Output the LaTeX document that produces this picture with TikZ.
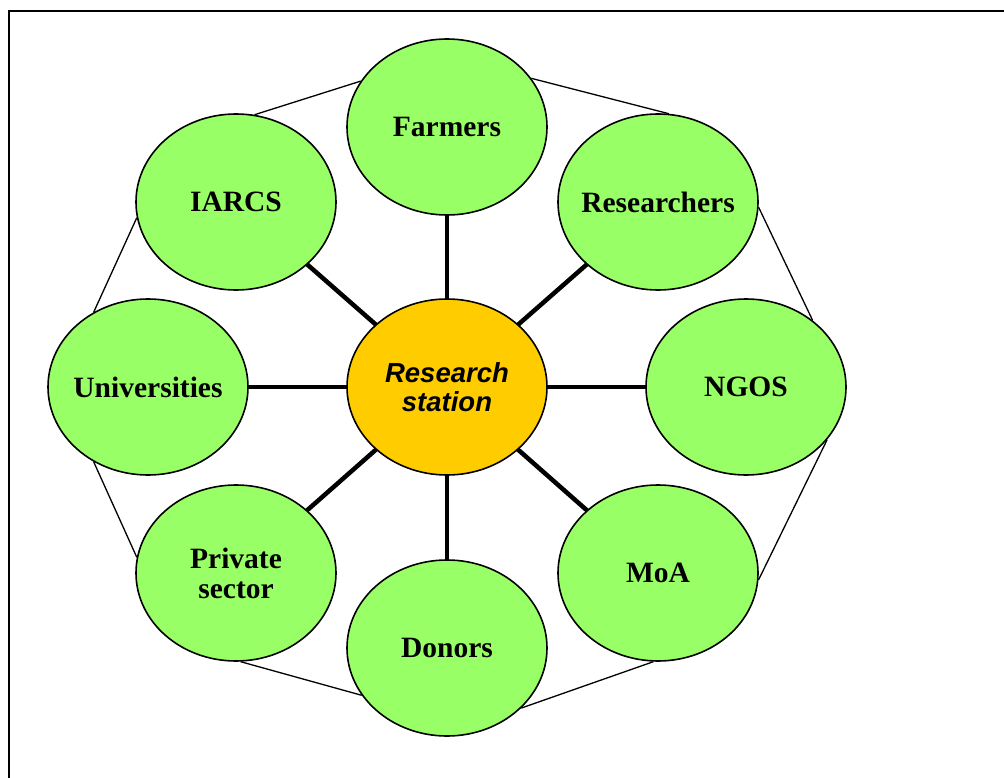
\documentclass[tikz,border=0pt]{standalone}
\usepackage{fontspec}
\usetikzlibrary{shapes.geometric}
\setmainfont{Liberation Serif}
\setsansfont{Liberation Sans}
\definecolor{leaf}{RGB}{153,255,102}
\definecolor{hub}{RGB}{255,204,0}
% a line of label text that does not widen its ellipse
\newcommand\zw[1]{\makebox[0pt][c]{#1}}
\begin{document}
\begin{tikzpicture}[x=1pt,y=1pt,
  partner/.style={ellipse, draw=black, line width=1.6pt, fill=leaf,
    minimum width=200pt, minimum height=176pt, inner sep=0pt,
    align=center, font=\fontsize{29.5}{30}\selectfont\bfseries},
  station/.style={ellipse, draw=black, line width=1.6pt, fill=hub,
    minimum width=200pt, minimum height=176pt, inner sep=0pt,
    align=center, font=\sffamily\fontsize{27.5}{29.5}\selectfont\bfseries\itshape},
  spoke/.style={line width=4.5pt},
  ring/.style={line width=1.3pt}]
\useasboundingbox (0,0) rectangle (1004,-778);
\clip (0,0) rectangle (1004,-778);
% outer frame
\draw[line width=1.8pt] (9,-11) rectangle (1030,-800);
% hub and partners
\coordinate (c0) at (447,-387);
\foreach \nm/\px/\py in {farmers/447/127, researchers/658/202, ngos/746/387,
    moa/658/573, donors/447/648, private/236/573, universities/148/387, iarcs/236/202}
  \coordinate (p-\nm) at (\px,-\py);
% spokes behind the ellipses
\foreach \nm in {farmers,researchers,ngos,moa,donors,private,universities,iarcs}
  \draw[spoke] (c0) -- (p-\nm);
\node[station] (station) at (c0) {\zw{Research}\\\zw{station}};
\node[partner] (farmers) at (p-farmers) {\zw{Farmers}};
\node[partner] (researchers) at (p-researchers) {\zw{Researchers}};
\node[partner] (ngos) at (p-ngos) {\zw{NGOS}};
\node[partner] (moa) at (p-moa) {\zw{MoA}};
\node[partner] (donors) at (p-donors) {\zw{Donors}};
\node[partner] (private) at (p-private) {\zw{Private}\\\zw{sector}};
\node[partner] (universities) at (p-universities) {\zw{Universities}};
\node[partner] (iarcs) at (p-iarcs) {\zw{IARCS}};
% ring of thin links between neighbouring partners
\draw[ring] (iarcs.78) -- (farmers.152);
\draw[ring] (farmers.30) -- (researchers.83);
\draw[ring] (researchers.-3) -- (ngos.45);
\draw[ring] (ngos.-33) -- (moa.-4);
\draw[ring] (moa.-93) -- (donors.-39);
\draw[ring] (donors.209) -- (private.-87);
\draw[ring] (private.171) -- (universities.234);
\draw[ring] (universities.126) -- (iarcs.189);
\end{tikzpicture}
\end{document}
